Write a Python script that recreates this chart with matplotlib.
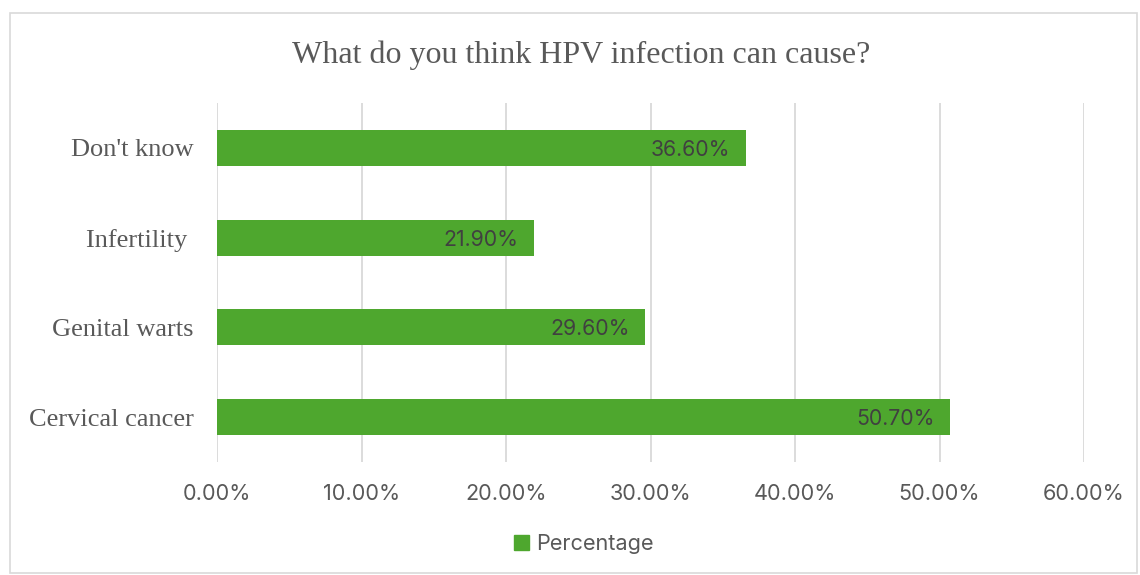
import matplotlib
matplotlib.use("Agg")
import matplotlib.pyplot as plt
import matplotlib.patches as mpatches
from matplotlib.ticker import FuncFormatter

categories = ["Cervical cancer", "Genital warts", "Infertility ", "Don't know"]
values = [50.7, 29.6, 21.9, 36.6]
series_name = "Percentage"
ticks = [0, 10, 20, 30, 40, 50, 60]

BAR = "#4EA72E"
GRID = "#D9D9D9"
TEXT = "#595959"
SANS = ["Inter", "DejaVu Sans"]
SERIF = ["Liberation Serif", "DejaVu Serif"]

fig = plt.figure(figsize=(11.4, 5.75), dpi=100)
ax = fig.add_axes([0.1904, 0.1965, 0.7605, 0.6244])

y = range(len(categories))
bars = ax.barh(y, values, height=0.4, color=BAR, label=series_name, zorder=3)

for b, v in zip(bars, values):
    ax.annotate(f"{v:.2f}%", (b.get_width(), b.get_y() + b.get_height() / 2),
                xytext=(-11, -1.5), textcoords="offset points", ha="right", va="center",
                fontsize=15.3, color="#404040", family=SANS, zorder=4)

ax.set_xlim(0, 60)
ax.set_ylim(-0.5, len(categories) - 0.5)
ax.set_xticks(ticks)
ax.xaxis.set_major_formatter(FuncFormatter(lambda v, p: f"{v:.2f}%"))
ax.set_yticks(list(y))
ax.set_yticklabels(categories, family=SERIF, fontsize=19, color=TEXT)
for lab in ax.get_xticklabels():
    lab.set_family(SANS)
    lab.set_fontsize(15.6)
    lab.set_color(TEXT)
ax.tick_params(axis="x", length=0, pad=15.5)
ax.tick_params(axis="y", length=0, pad=17)
ax.xaxis.grid(True, color=GRID, linewidth=1.3, zorder=0)
for s in ax.spines.values():
    s.set_visible(False)

fig.suptitle("What do you think HPV infection can cause?", x=0.51, y=0.93,
             family=SERIF, fontsize=23, color=TEXT)

fig.legend(handles=[mpatches.Patch(color=BAR, label=series_name)],
           loc="center", bbox_to_anchor=(0.512, 0.054), frameon=False,
           prop={"family": SANS, "size": 15.6}, labelcolor=TEXT,
           handlelength=0.7, handleheight=0.7, handletextpad=0.3)

fig.patches.append(mpatches.Rectangle((10 / 1140, 2 / 575), 1127 / 1140, 560 / 575,
                                      transform=fig.transFigure, fill=False,
                                      edgecolor=GRID, linewidth=1.2))

fig.savefig("out.png", dpi=100)
